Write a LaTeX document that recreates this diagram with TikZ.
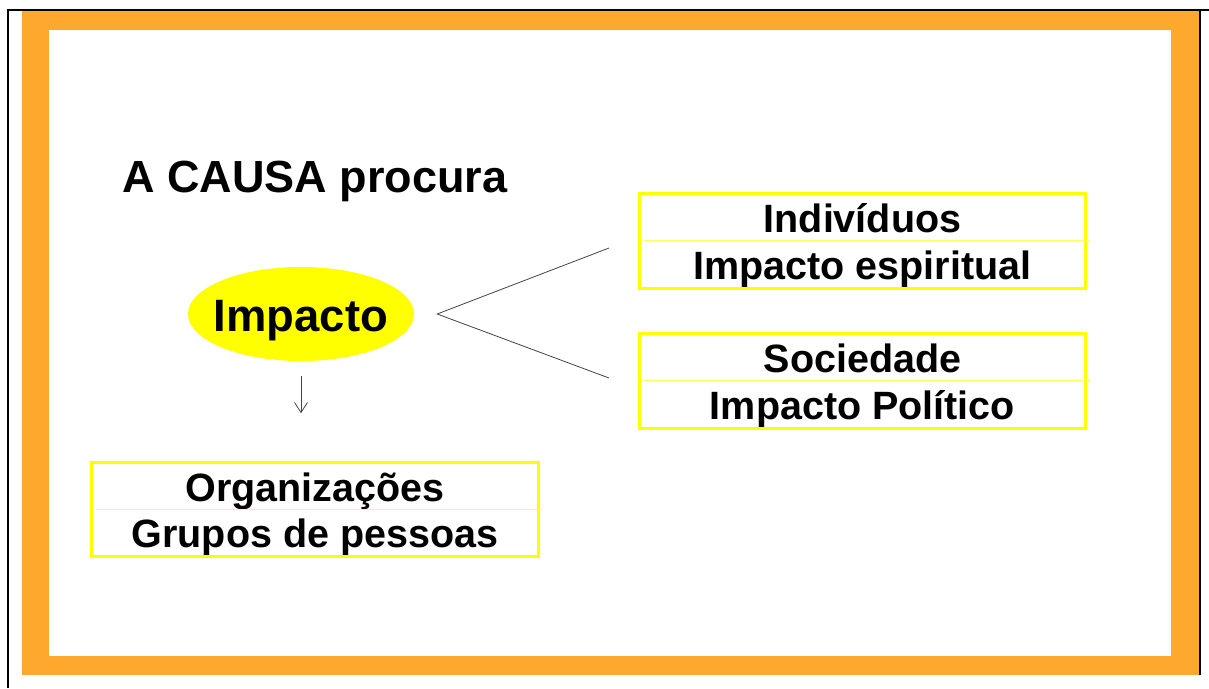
\documentclass[tikz,border=0pt]{standalone}
\usepackage{fontspec}
\setmainfont{Liberation Sans}
\usetikzlibrary{arrows.meta,positioning,fit,shapes.geometric}
\definecolor{ink}{HTML}{000000}
\definecolor{frame}{HTML}{FFA82E}
\definecolor{hilite}{HTML}{FFFF00}
\definecolor{rule}{HTML}{FFFF60}
\definecolor{wire}{HTML}{444444}
\tikzset{
  title/.style={font=\bfseries\fontsize{45}{52}\selectfont,text=ink,inner sep=0pt},
  blob/.style={ellipse,fill=hilite,minimum width=226pt,minimum height=94pt,inner sep=-20pt,text height=34pt,text depth=0pt,font=\bfseries\fontsize{45.4}{52}\selectfont,text=ink},
  cell/.style={minimum width=446pt,minimum height=47.5pt,inner sep=0pt,text height=38pt,text depth=8pt,font=\bfseries\fontsize{39.5}{45}\selectfont,text=ink},
  frm/.style={draw=hilite,line width=3pt,inner sep=0pt},
  sep/.style={draw=rule,line width=1pt},
  wr/.style={draw=wire,line width=.8pt},
  ar/.style={-{Straight Barb[length=10pt,width=13pt]},draw=wire,line width=.8pt},
}

\begin{document}
\begin{tikzpicture}[x=1pt,y=-1pt]
  \useasboundingbox (0,0) rectangle (1209,688);
  % ── the slide frame ──
  \fill[frame] (22,10) rectangle (1200,675);
  \fill[white] (49,30) rectangle (1171,656);
  \draw[ink,line width=2pt] (8,688) -- (8,10) -- (1209,10);
  \draw[ink,line width=2pt] (1200,10) -- (1200,675);

  \node[title,anchor=base west] (causa) at (122,192) {A CAUSA procura};
  \node[blob] (impacto) at (301,314) {Impacto};

  % ── the two branches ──
  \coordinate[right=23pt of impacto.east] (apex);
  \coordinate (tipup) at (609,248);
  \coordinate (tipdn) at (609,378);
  \draw[wr] (tipup) -- (apex) -- (tipdn);

  \node[cell] (indiv) at (862.5,217) {Indivíduos};
  \node[cell,below=0pt of indiv] (espir) {Impacto espiritual};
  \node[frm,fit=(indiv)(espir)] (boxind) {};
  \draw[sep] ([xshift=4pt]indiv.south west) -- ([xshift=4pt]indiv.south east);

  \node[cell] (socied) at (862.5,357) {Sociedade};
  \node[cell,below=0pt of socied] (polit) {Impacto Político};
  \node[frm,fit=(socied)(polit)] (boxsoc) {};
  \draw[sep] ([xshift=4pt]socied.south west) -- ([xshift=4pt]socied.south east);

  % ── down to the groups ──
  \coordinate[below=15pt of impacto.south] (arrtop);
  \coordinate[below=37pt of arrtop] (arrend);
  \draw[ar] (arrtop) -- (arrend);

  \node[cell,minimum height=46.5pt] (organ) at (315,486) {Organizações};
  \node[cell,minimum height=46.5pt,below=0pt of organ] (grupos) {Grupos de pessoas};
  \node[frm,fit=(organ)(grupos)] (boxorg) {};
  \draw[sep] ([xshift=4pt]organ.south west) -- ([xshift=4pt]organ.south east);
\end{tikzpicture}
\end{document}
